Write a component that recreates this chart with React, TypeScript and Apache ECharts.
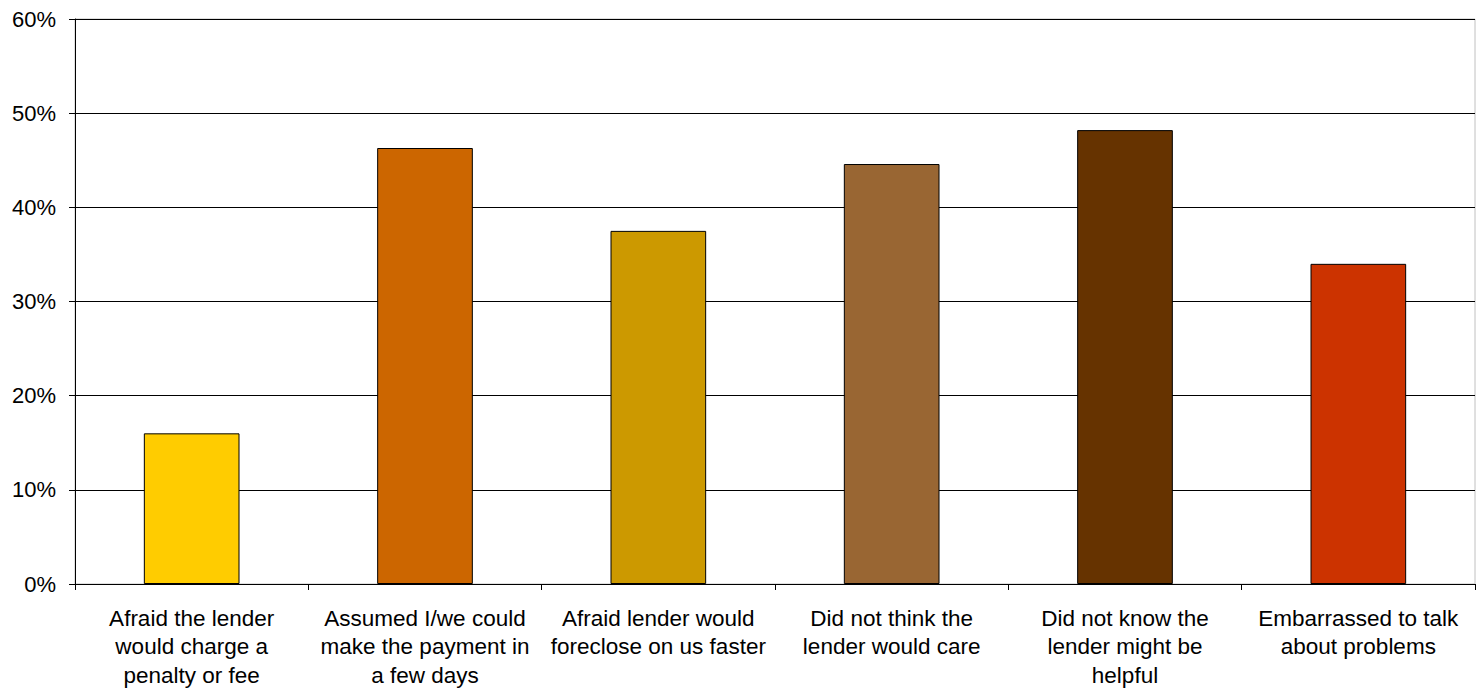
import React, { useEffect, useRef } from "react";
import * as echarts from "echarts";

const categories = [
  "Afraid the lender\nwould charge a\npenalty or fee",
  "Assumed I/we could\nmake the payment in\na few days",
  "Afraid lender would\nforeclose on us faster",
  "Did not think the\nlender would care",
  "Did not know the\nlender might be\nhelpful",
  "Embarrassed to talk\nabout problems",
];
const values = [16.0, 46.3, 37.5, 44.6, 48.2, 34.0];
const barColors = ["#FFCC00", "#CC6600", "#CC9900", "#996633", "#663300", "#CC3300"];

export default function App() {
  const ref = useRef<HTMLDivElement>(null);
  useEffect(() => {
    if (!ref.current) return;
    const chart = echarts.init(ref.current, undefined, { renderer: "svg" });
    const font = "'Liberation Sans', Arial, sans-serif";
    chart.setOption({
      animation: false,
      backgroundColor: "#ffffff",
      grid: {
        left: 75,
        right: 1,
        top: 19,
        bottom: 106,
        show: true,
        borderColor: "#c0c0c0",
        borderWidth: 1,
      },
      xAxis: {
        type: "category",
        data: categories,
        axisLine: { show: true, lineStyle: { color: "#000", width: 1 } },
        axisTick: { show: true, length: 6, lineStyle: { color: "#000" } },
        axisLabel: {
          interval: 0,
          color: "#000",
          fontFamily: font,
          fontSize: 22.5,
          lineHeight: 28.5,
          margin: 20,
        },
      },
      yAxis: {
        type: "value",
        min: 0,
        max: 60,
        interval: 10,
        axisLine: { show: true, lineStyle: { color: "#000", width: 1 } },
        axisTick: { show: true, length: 6, lineStyle: { color: "#000" } },
        splitLine: { show: true, lineStyle: { color: "#000", width: 1 } },
        axisLabel: {
          color: "#000",
          fontFamily: font,
          fontSize: 22,
          margin: 19,
          formatter: (v: number) => `${v}%`,
        },
      },
      series: [
        {
          type: "bar",
          data: values.map((v, i) => ({
            value: v,
            itemStyle: { color: barColors[i], borderColor: "#000", borderWidth: 1 },
          })),
          barWidth: "41%",
        },
      ],
    });
    return () => chart.dispose();
  }, []);
  return (
    <div
      ref={ref}
      style={{ position: "absolute", left: 0, top: 0, width: 1476, height: 690 }}
    />
  );
}
